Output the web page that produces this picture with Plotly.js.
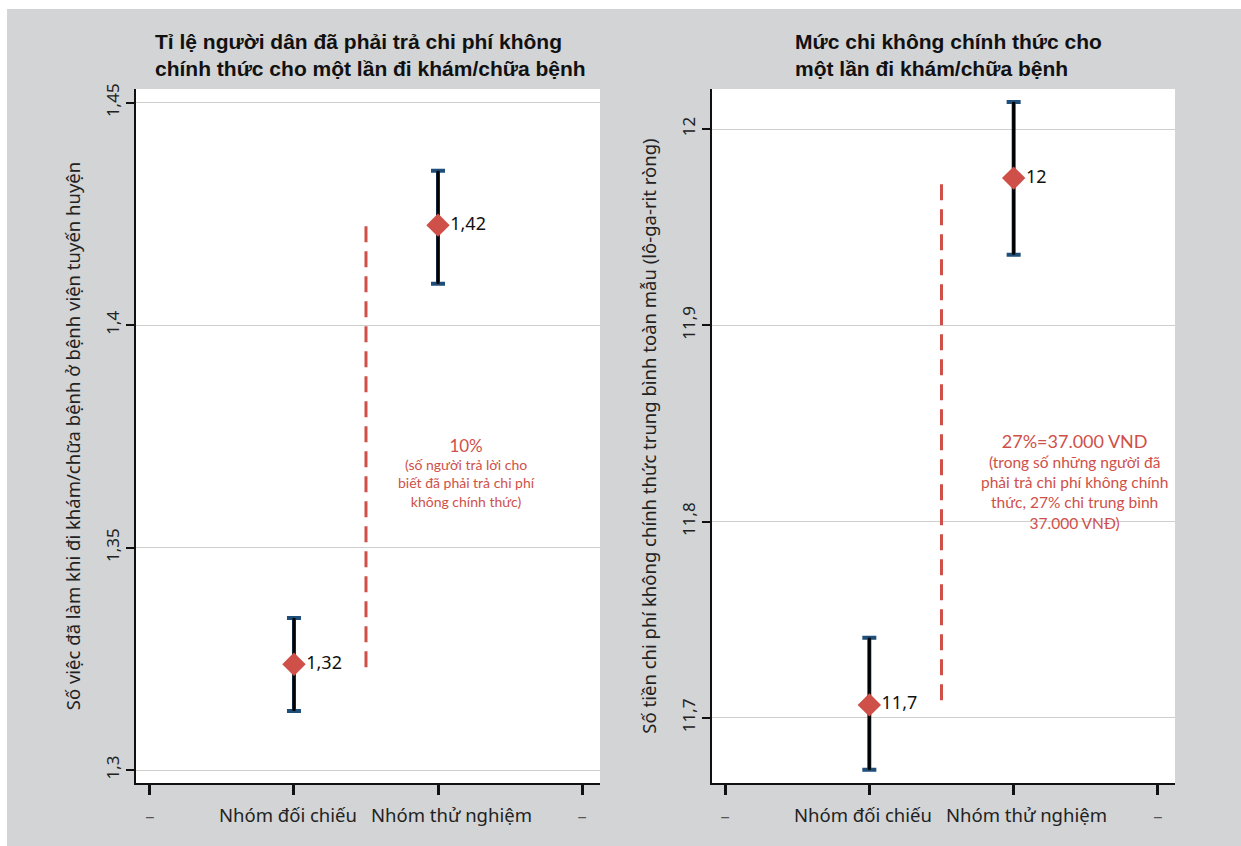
<!DOCTYPE html>
<html>
<head>
<meta charset="utf-8">
<script src="https://cdn.plot.ly/plotly-3.0.1.min.js"></script>
<style>
  html, body { margin: 0; padding: 0; background: #ffffff; }
  #chart { position: absolute; left: 7px; top: 9px; width: 1234px; height: 837px; }
</style>
</head>
<body>
<div id="chart"></div>
<script>
// ---------- DATA ----------
const categoryPositions = [1, 2];
const tickPositions = [0, 1, 2, 3];
const tickLabels = ["–", "Nhóm đối chiếu", "Nhóm thử nghiệm", "–"];

// Left panel: proportion
const leftMeans = [1.3238, 1.4225];
const leftLower = [1.3133, 1.4093];
const leftUpper = [1.3342, 1.4347];
const leftPointLabels = ["1,32", "1,42"];
const leftGapLine = [1.3231, 1.4227];
const leftYTicks = [1.3, 1.35, 1.4, 1.45];
const leftYTickText = ["1,3", "1,35", "1,4", "1,45"];

// Right panel: log amount
const rightMeans = [11.7066, 11.975];
const rightLower = [11.6735, 11.936];
const rightUpper = [11.7408, 12.0138];
const rightPointLabels = ["11,7", "12"];
const rightGapLine = [11.709, 11.976];
const rightYTicks = [11.7, 11.8, 11.9, 12];
const rightYTickText = ["11,7", "11,8", "11,9", "12"];

const gapX = 1.5;

const leftTitle = "Tỉ lệ người dân đã phải trả chi phí không<br>chính thức cho một lần đi khám/chữa bệnh";
const rightTitle = "Mức chi không chính thức cho<br>một lần đi khám/chữa bệnh";
const leftYTitle = "Số việc đã làm khi đi khám/chữa bệnh ở bệnh viện tuyến huyện";
const rightYTitle = "Số tiền chi phí không chính thức trung bình toàn mẫu (lô-ga-rit ròng)";
const leftNoteHead = "10%";
const leftNoteBody = ["(số người trả lời cho", "biết đã phải trả chi phí", "không chính thức)"];
const rightNoteHead = "27%=37.000 VND";
const rightNoteBody = ["(trong số những người đã", "phải trả chi phí không chính", "thức, 27% chi trung bình", "37.000 VNĐ)"];

// ---------- STYLE ----------
const RED = "#cf5049";
const CAP = "#1f4e79";
const labelFont = "Noto Sans, Open Sans, sans-serif";
const noteFont = "Lato, Noto Sans, sans-serif";

// dashes drawn as tick labels; category names drawn as annotations (nudged apart as in the reference)
const tickTextStyled = tickLabels.map(t => t === "–" ? "<span style='color:#555555'>" + t + "</span>" : "");
const categoryNudge = [0, -6, 13, 0];

function panelTraces(means, lower, upper, labels, gap, xa, ya) {
  const plus = means.map((m, i) => upper[i] - m);
  const minus = means.map((m, i) => m - lower[i]);
  return [
    { // caps (blue)
      type: "scatter", mode: "markers", x: categoryPositions, y: means, xaxis: xa, yaxis: ya,
      marker: { size: 1, color: "rgba(0,0,0,0)" },
      error_y: { type: "data", symmetric: false, array: plus, arrayminus: minus,
                 color: CAP, thickness: 4, width: 7 },
      hoverinfo: "skip", showlegend: false
    },
    { // stems (black)
      type: "scatter", mode: "markers", x: categoryPositions, y: means, xaxis: xa, yaxis: ya,
      marker: { size: 1, color: "rgba(0,0,0,0)" },
      error_y: { type: "data", symmetric: false, array: plus, arrayminus: minus,
                 color: "#000000", thickness: 3, width: 0 },
      hoverinfo: "skip", showlegend: false
    },
    { // dashed gap line
      type: "scatter", mode: "lines", x: [gapX, gapX], y: gap, xaxis: xa, yaxis: ya,
      line: { color: RED, width: 3, dash: "16px,9px" },
      hoverinfo: "skip", showlegend: false
    },
    { // means
      type: "scatter", mode: "markers+text", x: categoryPositions, y: means, xaxis: xa, yaxis: ya,
      marker: { symbol: "diamond", size: 18, color: RED, line: { width: 0 } },
      text: labels, textposition: "middle right",
      textfont: { family: labelFont, size: 18, color: "#111111" },
      cliponaxis: false, showlegend: false
    }
  ];
}

const data = []
  .concat(panelTraces(leftMeans, leftLower, leftUpper, leftPointLabels, leftGapLine, "x", "y"))
  .concat(panelTraces(rightMeans, rightLower, rightUpper, rightPointLabels, rightGapLine, "x2", "y2"));

function xAxis(domain, range, anchor) {
  return {
    domain: domain, range: range, anchor: anchor,
    tickmode: "array", tickvals: tickPositions, ticktext: tickTextStyled, tickangle: 0,
    ticks: "outside", ticklen: 10, tickwidth: 3, tickcolor: "#111111",
    showline: true, linecolor: "#111111", linewidth: 2, mirror: false,
    showgrid: false, zeroline: false, fixedrange: true,
    tickfont: { family: labelFont, size: 18.5, color: "#222222" },
    ticklabelstandoff: 6
  };
}
function yAxis(range, vals, text, title, anchor) {
  return {
    range: range, anchor: anchor, domain: [0, 1],
    tickmode: "array", tickvals: vals, ticktext: text, tickangle: -90,
    ticks: "outside", ticklen: 8, tickwidth: 2, tickcolor: "#111111",
    showline: true, linecolor: "#111111", linewidth: 2, mirror: false,
    showgrid: true, gridcolor: "#cfcfcf", gridwidth: 1, zeroline: false, fixedrange: true,
    tickfont: { family: labelFont, size: 17, color: "#222222" },
    title: { text: title, font: { family: labelFont, size: 18.5, color: "#222222" }, standoff: 16 }
  };
}

function note(head, body, xref, yref, x, y, headSize, bodySize) {
  const txt = "<span style='font-size:" + headSize + "px'>" + head + "</span><br>" + body.join("<br>");
  return { text: txt, xref: xref, yref: yref, x: x, y: y, showarrow: false, align: "center",
           font: { family: noteFont, size: bodySize, color: RED } };
}

function categoryAnnotations(xref) {
  const out = [];
  tickLabels.forEach((t, i) => {
    if (t === "–") return;
    out.push({ text: t, xref: xref, yref: "paper", x: tickPositions[i], y: 0,
               xanchor: "center", yanchor: "top", yshift: -17, xshift: categoryNudge[i],
               showarrow: false, font: { family: labelFont, size: 18.5, color: "#222222" } });
  });
  return out;
}

const titleFont = { family: "Liberation Sans, Arial, sans-serif", size: 21, color: "#111111", weight: "bold" };

const layout = {
  width: 1234, height: 837,
  paper_bgcolor: "#d3d4d6", plot_bgcolor: "#ffffff",
  margin: { l: 129, r: 66, t: 80, b: 63 },
  showlegend: false,
  xaxis: xAxis([0, 0.4466], [-0.097, 3.125], "y"),
  yaxis: yAxis([1.2971, 1.4531], leftYTicks, leftYTickText, leftYTitle, "x"),
  xaxis2: xAxis([0.5544, 1], [-0.09, 3.118], "y2"),
  yaxis2: yAxis([11.6668, 12.0204], rightYTicks, rightYTickText, rightYTitle, "x2"),
  annotations: [
    { text: leftTitle, xref: "paper", yref: "paper", x: 0.0164, y: 1.0, xanchor: "left", yanchor: "bottom",
      yshift: 7, align: "left", showarrow: false, font: titleFont },
    { text: rightTitle, xref: "paper", yref: "paper", x: 0.6323, y: 1.0, xanchor: "left", yanchor: "bottom",
      yshift: 7, align: "left", showarrow: false, font: titleFont },
    note(leftNoteHead, leftNoteBody, "x", "y", 2.2, 1.3668, 17, 14),
    note(rightNoteHead, rightNoteBody, "x2", "y2", 2.42, 11.8205, 18, 15.5)
  ].concat(categoryAnnotations("x")).concat(categoryAnnotations("x2"))
};

Plotly.newPlot("chart", data, layout, { displayModeBar: false, staticPlot: true });
</script>
</body>
</html>
